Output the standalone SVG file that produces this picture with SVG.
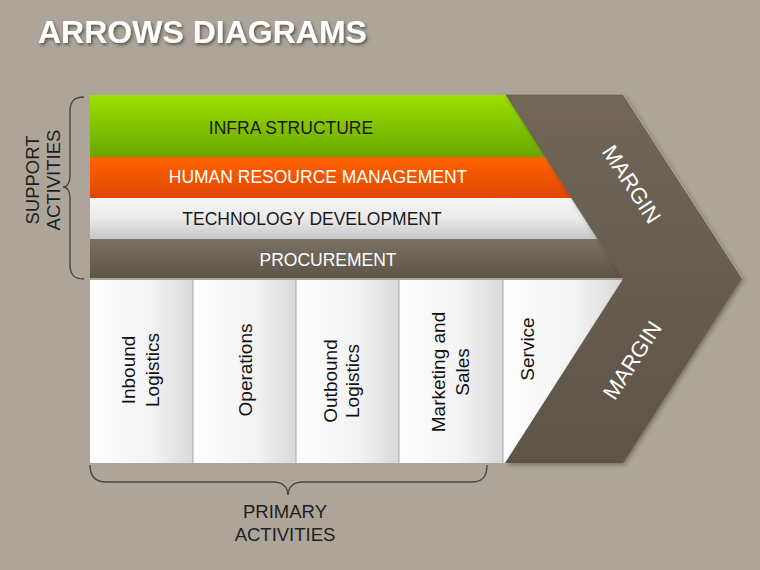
<svg xmlns="http://www.w3.org/2000/svg" width="760" height="570" viewBox="0 0 760 570">
<defs>
<style>
.t{font-family:"Liberation Sans",Arial,sans-serif;}
.band{font-size:17.5px;text-anchor:middle;}
.col{font-size:19px;text-anchor:middle;fill:#111;}
.lbl{font-size:18.5px;text-anchor:middle;fill:#1e1e1e;}
.mg{font-size:22px;text-anchor:middle;fill:#fff;}
.brace{fill:none;stroke:#4a4540;stroke-width:1.4;}
.div{stroke:#a9a9a9;stroke-width:1;}
</style>
<linearGradient id="gGreen" x1="0" y1="0" x2="0" y2="1"><stop offset="0" stop-color="#9de000"/><stop offset="1" stop-color="#68a600"/></linearGradient>
<linearGradient id="gOrange" x1="0" y1="0" x2="0" y2="1"><stop offset="0" stop-color="#ff6400"/><stop offset="1" stop-color="#e04600"/></linearGradient>
<linearGradient id="gWhite" x1="0" y1="0" x2="0" y2="1"><stop offset="0" stop-color="#f6f6f6"/><stop offset="0.5" stop-color="#eaeaea"/><stop offset="1" stop-color="#c6c6ca"/></linearGradient>
<linearGradient id="gBrown" x1="0" y1="0" x2="0" y2="1"><stop offset="0" stop-color="#7a7264"/><stop offset="1" stop-color="#5d5447"/></linearGradient>
<linearGradient id="gCol" x1="0" y1="0" x2="1" y2="0"><stop offset="0" stop-color="#ffffff"/><stop offset="0.6" stop-color="#f3f3f3"/><stop offset="1" stop-color="#d9d9db"/></linearGradient>
<linearGradient id="gChev" x1="0" y1="0" x2="0" y2="1"><stop offset="0" stop-color="#706657"/><stop offset="1" stop-color="#5e5447"/></linearGradient>
<filter id="sh" x="-10%" y="-30%" width="120%" height="160%"><feDropShadow dx="1.5" dy="2" stdDeviation="1.5" flood-color="#3a342c" flood-opacity="0.7"/></filter>
<filter id="sh2" x="-10%" y="-10%" width="120%" height="120%"><feDropShadow dx="2" dy="2" stdDeviation="2" flood-color="#3a342c" flood-opacity="0.45"/></filter>
</defs>
<rect width="760" height="570" fill="#ada599"/>
<text class="t" x="38" y="43" font-size="32" font-weight="bold" fill="#ffffff" filter="url(#sh)">ARROWS DIAGRAMS</text>

<g id="infra-structure">
<rect x="90" y="95" width="532" height="62" fill="url(#gGreen)"/>
<text class="t band" x="291" y="134" fill="#1a1a1a">INFRA STRUCTURE</text>
</g>
<g id="human-resource-management">
<rect x="90" y="157" width="532" height="41" fill="url(#gOrange)"/>
<text class="t band" x="318" y="183" fill="#ffffff">HUMAN RESOURCE MANAGEMENT</text>
</g>
<g id="technology-development">
<rect x="90" y="198" width="532" height="41" fill="url(#gWhite)"/>
<text class="t band" x="312" y="225" fill="#1a1a1a">TECHNOLOGY DEVELOPMENT</text>
</g>
<g id="procurement">
<rect x="90" y="239" width="532" height="39" fill="url(#gBrown)"/>
<text class="t band" x="328" y="266" fill="#ffffff">PROCUREMENT</text>
</g>

<g id="inbound-logistics">
<rect x="90" y="280" width="103" height="183" fill="url(#gCol)"/>
<text class="t col" transform="translate(140,370) rotate(-90)"><tspan x="0" y="-5">Inbound</tspan><tspan x="0" y="19">Logistics</tspan></text>
</g>
<g id="operations">
<rect x="193" y="280" width="103" height="183" fill="url(#gCol)"/>
<text class="t col" transform="translate(245,370) rotate(-90)" y="7">Operations</text>
</g>
<g id="outbound-logistics">
<rect x="296" y="280" width="103" height="183" fill="url(#gCol)"/>
<text class="t col" transform="translate(341,381) rotate(-90)"><tspan x="0" y="-4">Outbound</tspan><tspan x="0" y="18">Logistics</tspan></text>
</g>
<g id="marketing-and-sales">
<rect x="399" y="280" width="104" height="183" fill="url(#gCol)"/>
<text class="t col" transform="translate(450,372) rotate(-90)"><tspan x="0" y="-5">Marketing and</tspan><tspan x="0" y="19">Sales</tspan></text>
</g>
<g id="service">
<rect x="503" y="280" width="119" height="183" fill="url(#gCol)"/>
<text class="t col" transform="translate(527,349) rotate(-90)" y="7">Service</text>
</g>
<g id="dividers">
<line class="div" x1="193" y1="280" x2="193" y2="463"/>
<line class="div" x1="296" y1="280" x2="296" y2="463"/>
<line class="div" x1="399" y1="280" x2="399" y2="463"/>
<line class="div" x1="503" y1="280" x2="503" y2="463"/>
</g>

<g id="margin">
<polygon points="505,94 623,94 742,278 623,463 505,463 623,279" fill="url(#gChev)" filter="url(#sh2)"/>
<polyline points="505,94 623,94 742,278" fill="none" stroke="#cfc7bb" stroke-width="1" opacity="0.7"/>
<text class="t mg" transform="translate(632,184) rotate(57)" y="8">MARGIN</text>
<text class="t mg" transform="translate(632,360) rotate(-57)" y="8">MARGIN</text>
</g>

<g id="support-activities">
<path class="brace" d="M84,97 C74,97 70,101 70,112 L70,176 C70,183 67,187 63,187 C67,187 70,191 70,198 L70,264 C70,275 74,279 84,279"/>
<text class="t lbl" transform="translate(43,180) rotate(-90)"><tspan x="0" y="-4">SUPPORT</tspan><tspan x="0" y="17">ACTIVITIES</tspan></text>
</g>
<g id="primary-activities">
<path class="brace" d="M90,465 C90,476 95,482 106,482 L274,482 C282,482 288,487 288,495 C288,487 294,482 302,482 L472,482 C483,482 487,476 487,465"/>
<text class="t lbl" x="285" y="518">PRIMARY</text>
<text class="t lbl" x="285" y="541">ACTIVITIES</text>
</g>
</svg>
